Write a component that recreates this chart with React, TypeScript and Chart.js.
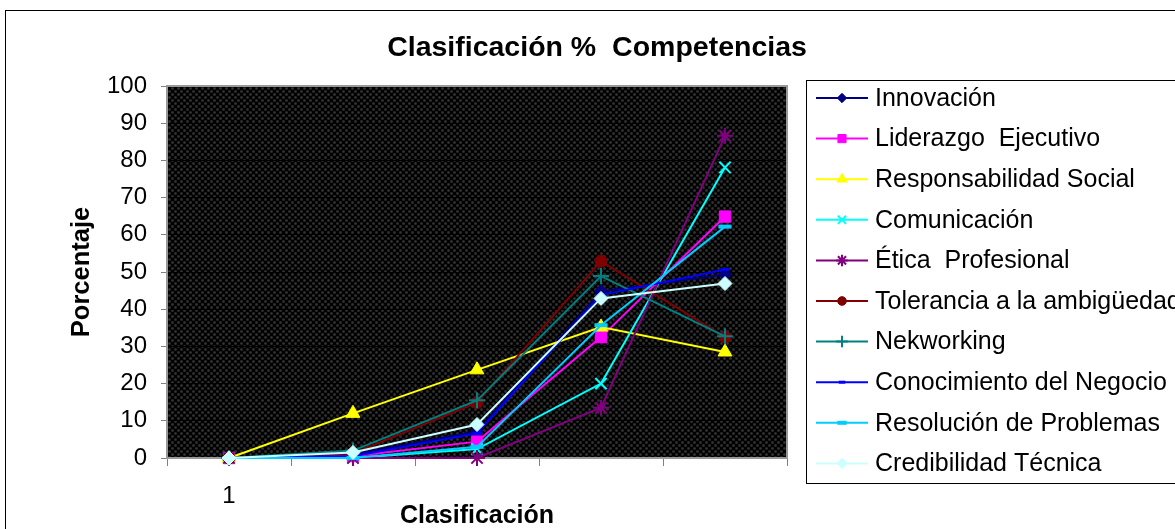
import React, { useEffect, useRef } from 'react';
import { Chart, registerables } from 'chart.js';
import { drawPoint } from 'chart.js/helpers';

Chart.register(...registerables);

// Category labels (only the first rank is labelled on the axis)
const categories = ['1', '', '', '', ''];

const seriesNames = [
  'Innovación',
  'Liderazgo  Ejecutivo',
  'Responsabilidad Social',
  'Comunicación',
  'Ética  Profesional',
  'Tolerancia a la ambigüedad',
  'Nekworking',
  'Conocimiento del Negocio',
  'Resolución de Problemas',
  'Credibilidad Técnica',
];

// Percentages per classification rank
const innovacion = [0, 1, 7.1, 44.8, 49.3];
const liderazgo = [0, 0.5, 4.4, 32.5, 64.9];
const responsabilidad = [0, 12, 23.7, 35.2, 28.5];
const comunicacion = [0, 0, 2.4, 20, 78.1];
const etica = [0, 0, 0, 13.5, 86.6];
const tolerancia = [0, 1.2, 14.9, 52.9, 32.5];
const nekworking = [0, 2, 15.5, 48.9, 32.7];
const conocimiento = [0, 0.5, 6.6, 43.8, 50.7];
const resolucion = [0, 0, 3.0, 35.7, 62.2];
const credibilidad = [0, 1.5, 9.0, 42.9, 46.9];

const seriesValues = [
  innovacion, liderazgo, responsabilidad, comunicacion, etica,
  tolerancia, nekworking, conocimiento, resolucion, credibilidad,
];

const yTicks = [0, 10, 20, 30, 40, 50, 60, 70, 80, 90, 100];

const seriesColors = [
  '#000080', '#FF00FF', '#FFFF00', '#00FFFF', '#800080',
  '#800000', '#008080', '#0000FF', '#00CCFF', '#CCFFFF',
];
const markerStyles = [
  'rectRot', 'rect', 'triangle', 'crossRot', 'star',
  'circle', 'cross', 'line', 'line', 'rectRot',
];
const markerRadius = [6.5, 8, 8, 8, 8, 6, 8, 4.5, 6.5, 7];
const markerBorder = [1, 1, 1, 2, 2, 1, 2, 3, 4, 1];

const FONT = '"Liberation Sans", Arial, Helvetica, sans-serif';

// Dark dotted fill for the plot area
function makePattern(ctx: CanvasRenderingContext2D) {
  const tile = document.createElement('canvas');
  tile.width = 6;
  tile.height = 6;
  const t = tile.getContext('2d')!;
  t.fillStyle = '#000';
  t.fillRect(0, 0, 6, 6);
  const dot = (x: number, y: number) => {
    t.fillStyle = '#151515';
    t.fillRect(x, y, 3, 3);
    t.fillStyle = '#2a2a2a';
    t.fillRect(x + 1, y, 1, 3);
    t.fillRect(x, y + 1, 3, 1);
    t.fillStyle = '#333';
    t.fillRect(x + 1, y + 1, 1, 1);
  };
  dot(0, 0);
  dot(3, 3);
  return ctx.createPattern(tile, 'repeat')!;
}

const framePlugin = {
  id: 'frame',
  beforeDraw(chart: any) {
    const { ctx, chartArea: a, width, height } = chart;
    ctx.save();
    ctx.fillStyle = '#fff';
    ctx.fillRect(0, 0, width, height);
    ctx.strokeStyle = '#000';
    ctx.lineWidth = 1;
    ctx.strokeRect(5.5, 10.5, width + 20, height + 20);
    ctx.fillStyle = makePattern(ctx);
    ctx.fillRect(a.left, a.top, a.right - a.left, a.bottom - a.top);
    ctx.restore();
  },
  beforeDatasetsDraw(chart: any) {
    const { ctx, chartArea: a } = chart;
    ctx.save();
    ctx.strokeStyle = '#999';
    ctx.lineWidth = 2;
    ctx.strokeRect(a.left, a.top, a.right - a.left, a.bottom - a.top);
    ctx.restore();
  },
  afterDraw(chart: any) {
    const { ctx, chartArea: a } = chart;
    ctx.save();
    ctx.fillStyle = '#000';
    // title
    ctx.font = `bold 28.5px ${FONT}`;
    ctx.textAlign = 'center';
    ctx.textBaseline = 'middle';
    ctx.fillText('Clasificación %  Competencias', 597, 48);
    // axis titles
    ctx.font = `bold 25px ${FONT}`;
    ctx.fillText('Clasificación', (a.left + a.right) / 2, 516);
    ctx.save();
    ctx.translate(82, 272);
    ctx.rotate(-Math.PI / 2);
    ctx.font = `bold 25.5px ${FONT}`;
    ctx.fillText('Porcentaje', 0, 0);
    ctx.restore();

    // legend
    ctx.strokeStyle = '#000';
    ctx.lineWidth = 1;
    ctx.strokeRect(806.5, 80.5, 420, 403);
    ctx.font = `25px ${FONT}`;
    ctx.textAlign = 'left';
    seriesNames.forEach((name, i) => {
      const y = 98 + i * 40.6;
      ctx.strokeStyle = seriesColors[i];
      ctx.lineWidth = 2;
      ctx.beginPath();
      ctx.moveTo(816, y);
      ctx.lineTo(868, y);
      ctx.stroke();
      ctx.fillStyle = seriesColors[i];
      ctx.strokeStyle = seriesColors[i];
      ctx.lineWidth = markerBorder[i];
      drawPoint(ctx, {
        pointStyle: markerStyles[i] as any,
        radius: markerRadius[i] * 0.72,
        rotation: 0,
        borderWidth: markerBorder[i],
      }, 842, y);
      ctx.fillStyle = '#000';
      ctx.fillText(name, 875, y + 1);
    });
    ctx.restore();
  },
};

export default function App() {
  const canvasRef = useRef<HTMLCanvasElement | null>(null);

  useEffect(() => {
    const canvas = canvasRef.current;
    if (!canvas) return;
    const n = seriesNames.length;
    const chart = new Chart(canvas, {
      type: 'line',
      data: {
        labels: categories,
        datasets: seriesNames.map((name, i) => ({
          label: name,
          data: seriesValues[i],
          borderColor: seriesColors[i],
          backgroundColor: seriesColors[i],
          pointBackgroundColor: seriesColors[i],
          pointBorderColor: seriesColors[i],
          pointStyle: markerStyles[i] as any,
          pointRadius: markerRadius[i],
          pointBorderWidth: markerBorder[i],
          borderWidth: 2,
          tension: 0,
          fill: false,
          clip: false as any,
          order: n - i,
        })),
      },
      options: {
        responsive: false,
        animation: false,
        devicePixelRatio: 1,
        layout: { padding: { top: 86, right: 388, left: 0, bottom: 0 } },
        plugins: {
          legend: { display: false },
          title: { display: false },
          tooltip: { enabled: false },
        },
        scales: {
          x: {
            type: 'category',
            offset: true,
            grid: {
              offset: true,
              drawOnChartArea: false,
              tickLength: 8,
              tickColor: '#808080',
              tickWidth: 1,
            },
            border: { display: false },
            ticks: {
              font: { family: FONT, size: 24 },
              color: '#000',
              padding: 16,
              autoSkip: false,
              maxRotation: 0,
            },
            afterFit: (s: any) => { s.height = 71; },
          },
          y: {
            min: yTicks[0],
            max: yTicks[yTicks.length - 1],
            afterBuildTicks: (s: any) => { s.ticks = yTicks.map((v) => ({ value: v })); },
            grid: {
              color: '#000',
              tickColor: '#808080',
              tickLength: 6,
              lineWidth: 1,
            },
            border: { display: false },
            ticks: {
              font: { family: FONT, size: 24 },
              color: '#000',
              padding: 14,
            },
            afterFit: (s: any) => { s.width = 167; },
          },
        },
      },
      plugins: [framePlugin],
    });
    return () => chart.destroy();
  }, []);

  return (
    <div style={{ position: 'fixed', left: 0, top: 0, width: 1175, height: 529, background: '#fff' }}>
      <canvas ref={canvasRef} width={1175} height={529} />
    </div>
  );
}
